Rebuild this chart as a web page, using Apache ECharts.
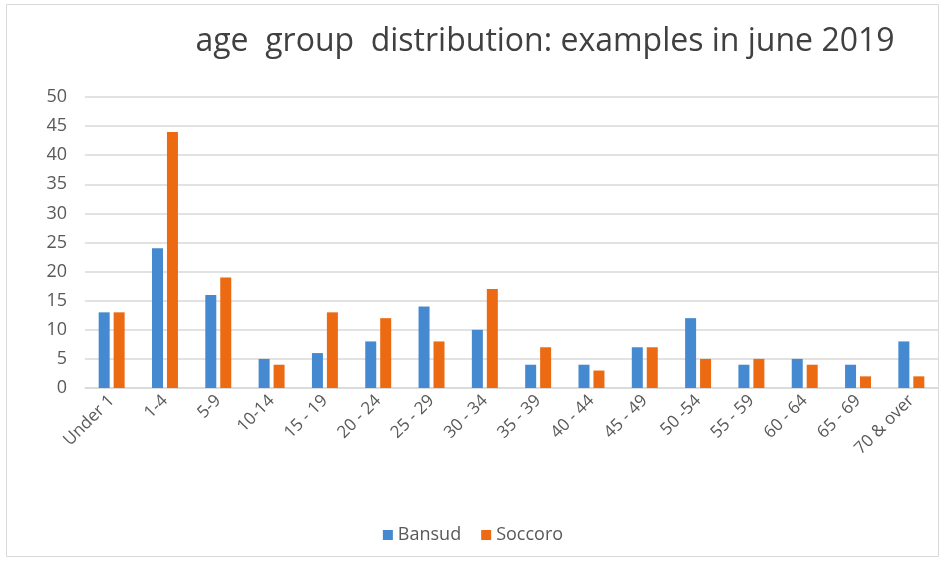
<!DOCTYPE html>
<html>
<head>
<meta charset="utf-8">
<script src="https://cdn.jsdelivr.net/npm/echarts@6/dist/echarts.min.js"></script>
<style>
  html, body { margin: 0; padding: 0; background: #fff; }
  #chart { width: 946px; height: 569px; }
</style>
</head>
<body>
<div id="chart"></div>
<script>
const categories = ['Under 1', '1-4', '5-9', '10-14', '15 - 19', '20 - 24', '25 - 29', '30 - 34',
  '35 - 39', '40 - 44', '45 - 49', '50 -54', '55 - 59', '60 - 64', '65 - 69', '70 & over']
const bansud = [13, 24, 16, 5, 6, 8, 14, 10, 4, 4, 7, 12, 4, 5, 4, 8]
const soccoro = [13, 44, 19, 4, 13, 12, 8, 17, 7, 3, 7, 5, 5, 4, 2, 2]
const yTicks = { min: 0, max: 50, interval: 5 }

const chart = echarts.init(document.getElementById('chart'))
const font = '"Open Sans", "Liberation Sans", sans-serif'
const option = {
  backgroundColor: '#fff',
  textStyle: { fontFamily: font },
  color: ['#4589d0', '#eb6a12'],
  title: {
    text: 'age  group  distribution: examples in june 2019',
    left: 540,
    top: 21,
    textAlign: 'center',
    textStyle: { fontSize: 32, fontWeight: 'normal', color: '#404040', fontFamily: font }
  },
  graphic: [{
    type: 'rect',
    shape: { x: 6.5, y: 4.5, width: 932, height: 552 },
    style: { fill: 'none', stroke: '#d9d9d9', lineWidth: 1 },
    silent: true
  }],
  legend: {
    bottom: 20,
    left: 'center',
    itemWidth: 10,
    itemHeight: 10,
    itemGap: 20,
    icon: 'rect',
    textStyle: { fontSize: 18, color: '#595959' },
    data: ['Bansud', 'Soccoro']
  },
  grid: { left: 85, right: 8, top: 97, bottom: 181, containLabel: false },
  xAxis: {
    type: 'category',
    data: categories,
    axisLine: { lineStyle: { color: '#d9d9d9', width: 1.5 } },
    axisTick: { show: false },
    axisLabel: { rotate: 45, fontSize: 17, color: '#595959', margin: 10, interval: 0 }
  },
  yAxis: {
    type: 'value',
    min: yTicks.min,
    max: yTicks.max,
    interval: yTicks.interval,
    axisLine: { show: false },
    axisTick: { show: false },
    axisLabel: { fontSize: 18, color: '#595959', margin: 18 },
    splitLine: { lineStyle: { color: '#d9d9d9', width: 1.5 } }
  },
  series: [
    { name: 'Bansud', type: 'bar', data: bansud, barWidth: 11, barGap: '36%' },
    { name: 'Soccoro', type: 'bar', data: soccoro, barWidth: 11, barGap: '36%' }
  ]
}
chart.setOption(option)
</script>
</body>
</html>
